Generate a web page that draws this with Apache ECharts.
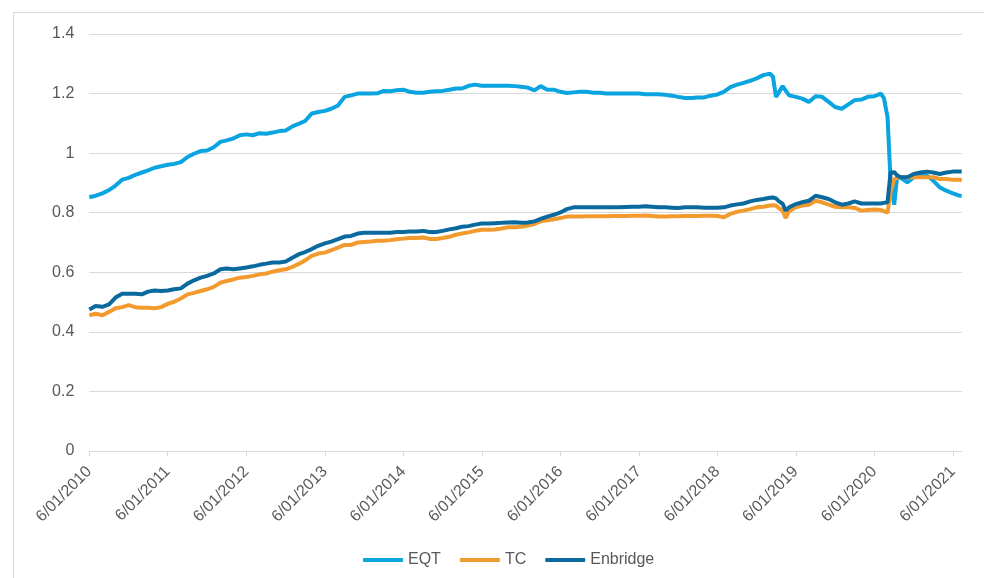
<!DOCTYPE html>
<html>
<head>
<meta charset="utf-8">
<script src="https://cdn.jsdelivr.net/npm/echarts@6/dist/echarts.min.js"></script>
<style>
html,body{margin:0;padding:0;background:#fff;}
#chart{width:984px;height:578px;}
</style>
</head>
<body>
<div id="chart"></div>
<script>
// Dates (monthly, plus a few mid-month points around sharp moves)
var dates = [
'2010-06-01','2010-07-01','2010-08-01','2010-09-01','2010-10-01','2010-11-01','2010-12-01',
'2011-01-01','2011-02-01','2011-03-01','2011-04-01','2011-05-01','2011-06-01','2011-07-01','2011-08-01','2011-09-01','2011-10-01','2011-11-01','2011-12-01',
'2012-01-01','2012-02-01','2012-03-01','2012-04-01','2012-05-01','2012-06-01','2012-07-01','2012-08-01','2012-09-01','2012-10-01','2012-11-01','2012-12-01',
'2013-01-01','2013-02-01','2013-03-01','2013-04-01','2013-05-01','2013-06-01','2013-07-01','2013-08-01','2013-09-01','2013-10-01','2013-11-01','2013-12-01',
'2014-01-01','2014-02-01','2014-03-01','2014-04-01','2014-05-01','2014-06-01','2014-07-01','2014-08-01','2014-09-01','2014-10-01','2014-11-01','2014-12-01',
'2015-01-01','2015-02-01','2015-03-01','2015-04-01','2015-05-01','2015-06-01','2015-07-01','2015-08-01','2015-09-01','2015-10-01','2015-11-01','2015-12-01',
'2016-01-01','2016-02-01','2016-03-01','2016-04-01','2016-05-01','2016-06-01','2016-07-01','2016-08-01','2016-09-01','2016-10-01','2016-11-01','2016-12-01',
'2017-01-01','2017-02-01','2017-03-01','2017-04-01','2017-05-01','2017-06-01','2017-07-01','2017-08-01','2017-09-01','2017-10-01','2017-11-01','2017-12-01',
'2018-01-01','2018-02-01','2018-03-01','2018-04-01','2018-05-01','2018-06-01','2018-07-01','2018-08-01','2018-09-01','2018-10-01','2018-11-01','2018-12-01',
'2019-01-01','2019-02-01','2019-02-15','2019-03-01','2019-03-15','2019-04-01','2019-04-15','2019-05-01','2019-06-01','2019-07-01','2019-08-01','2019-09-01','2019-10-01','2019-11-01','2019-12-01',
'2020-01-01','2020-02-01','2020-03-01','2020-04-01','2020-05-01','2020-06-01','2020-07-01','2020-07-15','2020-08-01','2020-08-15','2020-09-01','2020-09-15','2020-10-01','2020-11-01','2020-12-01',
'2021-01-01','2021-02-01','2021-03-01','2021-04-01','2021-05-01','2021-06-01','2021-07-01','2021-07-12'
];

var eqt = [
0.852,0.857,0.865,0.876,0.891,0.911,0.917,
0.927,0.935,0.942,0.951,0.956,0.961,0.964,0.970,0.987,0.998,1.007,1.009,
1.020,1.038,1.043,1.049,1.060,1.063,1.060,1.067,1.065,1.069,1.074,1.076,
1.090,1.099,1.108,1.133,1.138,1.142,1.149,1.160,1.189,1.194,1.200,1.200,
1.200,1.201,1.209,1.208,1.211,1.213,1.206,1.203,1.203,1.206,1.208,1.209,
1.213,1.217,1.217,1.226,1.230,1.226,1.226,1.226,1.226,1.226,1.225,1.223,
1.220,1.211,1.225,1.213,1.213,1.206,1.202,1.204,1.206,1.206,1.203,1.203,
1.200,1.200,1.200,1.200,1.200,1.200,1.198,1.198,1.198,1.196,1.193,1.189,
1.185,1.185,1.187,1.187,1.193,1.197,1.206,1.222,1.230,1.236,1.243,1.251,
1.262,1.267,1.256,1.189,1.205,1.225,1.210,1.194,1.189,1.183,1.172,1.191,1.189,1.172,1.155,
1.149,1.164,1.178,1.180,1.189,1.191,1.200,1.185,1.121,0.908,0.827,0.925,0.917,0.902,0.919,
0.925,0.925,0.908,0.885,0.874,0.865,0.857,0.857
];

var tc = [
0.456,0.461,0.456,0.467,0.479,0.483,0.490,
0.483,0.481,0.481,0.479,0.483,0.494,0.501,0.512,0.526,0.531,0.537,0.543,
0.551,0.565,0.571,0.576,0.582,0.584,0.588,0.593,0.596,0.602,0.607,0.610,
0.618,0.629,0.640,0.655,0.663,0.666,0.674,0.683,0.692,0.692,0.700,0.702,
0.703,0.706,0.706,0.708,0.711,0.713,0.715,0.715,0.717,0.712,0.712,0.715,
0.719,0.726,0.730,0.734,0.739,0.743,0.743,0.744,0.747,0.751,0.751,0.753,
0.757,0.762,0.771,0.775,0.778,0.782,0.787,0.787,0.787,0.788,0.788,0.788,
0.788,0.789,0.789,0.789,0.790,0.790,0.791,0.789,0.787,0.787,0.788,0.788,
0.789,0.789,0.789,0.790,0.790,0.789,0.785,0.796,0.803,0.807,0.812,0.818,
0.820,0.824,0.825,0.824,0.815,0.807,0.782,0.805,0.818,0.824,0.827,0.840,0.835,0.827,0.820,
0.818,0.818,0.816,0.807,0.809,0.811,0.809,0.805,0.800,0.870,0.913,0.917,0.919,0.919,0.919,
0.919,0.919,0.919,0.913,0.913,0.911,0.911,0.908
];

var enbridge = [
0.475,0.487,0.484,0.492,0.515,0.528,0.528,
0.528,0.526,0.535,0.539,0.537,0.539,0.543,0.546,0.562,0.573,0.582,0.588,
0.596,0.610,0.613,0.610,0.613,0.616,0.620,0.625,0.629,0.633,0.633,0.636,
0.649,0.661,0.668,0.678,0.689,0.697,0.703,0.711,0.720,0.722,0.730,0.733,
0.733,0.733,0.733,0.733,0.735,0.735,0.737,0.737,0.739,0.735,0.735,0.739,
0.744,0.748,0.753,0.755,0.760,0.764,0.764,0.765,0.766,0.767,0.768,0.766,
0.767,0.771,0.779,0.787,0.793,0.801,0.812,0.818,0.818,0.818,0.818,0.818,
0.818,0.818,0.818,0.819,0.820,0.820,0.822,0.820,0.818,0.818,0.817,0.816,
0.818,0.818,0.818,0.817,0.817,0.817,0.818,0.824,0.828,0.831,0.838,0.843,
0.846,0.850,0.851,0.848,0.838,0.830,0.807,0.818,0.829,0.835,0.840,0.857,0.852,0.846,0.835,
0.827,0.831,0.838,0.831,0.831,0.831,0.831,0.833,0.835,0.935,0.936,0.925,0.919,0.919,0.930,
0.935,0.938,0.935,0.930,0.935,0.938,0.938,0.938
];

var seriesNames = ['EQT','TC','Enbridge'];
var tickYears = [2010,2011,2012,2013,2014,2015,2016,2017,2018,2019,2020,2021];

function parseD(s){var p=s.split('-');return Date.UTC(+p[0],+p[1]-1,+p[2]);}
function pairs(vals){return dates.map(function(d,i){return [parseD(d),vals[i]];});}
var tickVals = tickYears.map(function(y){return Date.UTC(y,5,1);});

var chart = echarts.init(document.getElementById('chart'), null, {renderer:'canvas'});
var txt = '#595959';
var ff = 'Liberation Sans, Arial, sans-serif';
var option = {
  animation:false,
  backgroundColor:'#ffffff',
  graphic:[{type:'rect',shape:{x:13.5,y:12.5,width:1000,height:600},style:{fill:'none',stroke:'#d9d9d9',lineWidth:1},silent:true,z:-1}],
  grid:{left:89.3,right:22.3,top:34,bottom:127,containLabel:false},
  legend:{
    data:seriesNames,left:358,top:547,itemWidth:40,itemHeight:4,itemGap:19,icon:'roundRect',
    textStyle:{color:txt,fontSize:16,fontFamily:ff}
  },
  xAxis:{
    type:'value',min:parseD('2010-06-01'),max:parseD('2021-07-12'),
    axisLine:{show:true,lineStyle:{color:'#d9d9d9',width:1}},
    axisTick:{show:true,customValues:tickVals,length:5,lineStyle:{color:'#d9d9d9'}},
    axisLabel:{customValues:tickVals,rotate:45,margin:18,color:txt,fontSize:16,fontFamily:ff,
      hideOverlap:false,
      formatter:function(v){return '6/01/'+new Date(v).getUTCFullYear();}},
    splitLine:{show:false}
  },
  yAxis:{
    type:'value',min:0,max:1.4,interval:0.2,
    axisLine:{show:false},axisTick:{show:false},
    axisLabel:{margin:15,color:txt,fontSize:16,fontFamily:ff,
      formatter:function(v){return String(parseFloat(v.toFixed(1)));}},
    splitLine:{show:true,lineStyle:{color:'#d9d9d9',width:1}}
  },
  series:[
    {name:seriesNames[0],type:'line',data:pairs(eqt),showSymbol:false,symbol:'none',lineStyle:{color:'#0aa4e0',width:4},itemStyle:{color:'#0aa4e0'}},
    {name:seriesNames[1],type:'line',data:pairs(tc),showSymbol:false,symbol:'none',lineStyle:{color:'#f39a2e',width:4},itemStyle:{color:'#f39a2e'}},
    {name:seriesNames[2],type:'line',data:pairs(enbridge),showSymbol:false,symbol:'none',lineStyle:{color:'#0a6a9e',width:4},itemStyle:{color:'#0a6a9e'}}
  ]
};
chart.setOption(option);
</script>
</body>
</html>
